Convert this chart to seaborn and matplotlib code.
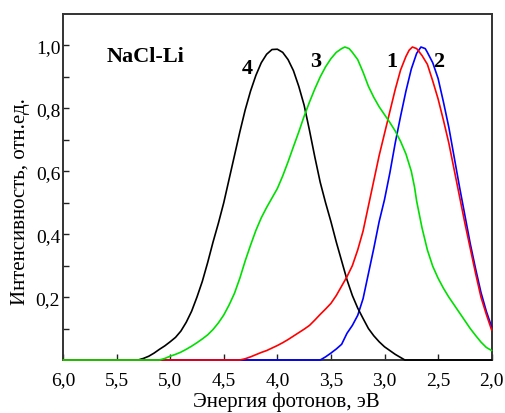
import matplotlib
matplotlib.use("Agg")
import matplotlib.pyplot as plt
import seaborn as sns
import pandas as pd
from matplotlib.ticker import FixedLocator, FuncFormatter

# Spectra of NaCl-Li: photon energy (eV) and normalized intensity
e1 = [6.0, 4.35, 4.3, 4.25, 4.2, 4.15, 4.1, 4.05, 4.0, 3.95, 3.9, 3.85, 3.8,
      3.75, 3.7, 3.65, 3.6, 3.55, 3.5, 3.45, 3.4, 3.35, 3.3, 3.25, 3.2, 3.15,
      3.1, 3.05, 3.0, 2.95, 2.9, 2.85, 2.8, 2.77, 2.74, 2.7, 2.65, 2.6, 2.55,
      2.5, 2.45, 2.4, 2.35, 2.3, 2.25, 2.2, 2.15, 2.1, 2.05, 2.0]
i1 = [0.0, 0.0, 0.004, 0.01, 0.017, 0.024, 0.03, 0.038, 0.046, 0.055, 0.065,
      0.076, 0.087, 0.098, 0.11, 0.127, 0.145, 0.162, 0.18, 0.205, 0.235,
      0.265, 0.30, 0.35, 0.41, 0.49, 0.57, 0.65, 0.72, 0.79, 0.86, 0.922,
      0.965, 0.985, 0.995, 0.99, 0.968, 0.94, 0.887, 0.83, 0.762, 0.69, 0.605,
      0.52, 0.435, 0.355, 0.275, 0.20, 0.145, 0.095]

e2 = [6.0, 3.6, 3.55, 3.5, 3.45, 3.4, 3.35, 3.3, 3.25, 3.2, 3.15, 3.1, 3.05,
      3.0, 2.95, 2.9, 2.85, 2.8, 2.75, 2.7, 2.66, 2.62, 2.6, 2.55, 2.5, 2.45,
      2.4, 2.35, 2.3, 2.25, 2.2, 2.15, 2.1, 2.05, 2.0]
i2 = [0.0, 0.0, 0.01, 0.022, 0.035, 0.05, 0.085, 0.11, 0.142, 0.195, 0.275,
      0.355, 0.44, 0.51, 0.595, 0.69, 0.775, 0.855, 0.925, 0.975, 0.995, 0.99,
      0.978, 0.945, 0.895, 0.82, 0.74, 0.645, 0.55, 0.46, 0.37, 0.29, 0.215,
      0.155, 0.105]

e3 = [6.0, 5.1, 5.05, 5.0, 4.95, 4.9, 4.85, 4.8, 4.75, 4.7, 4.65, 4.6, 4.55,
      4.5, 4.45, 4.4, 4.35, 4.3, 4.25, 4.2, 4.15, 4.1, 4.05, 4.0, 3.95, 3.9,
      3.85, 3.8, 3.75, 3.7, 3.65, 3.6, 3.55, 3.5, 3.45, 3.4, 3.37, 3.33, 3.3,
      3.25, 3.2, 3.15, 3.1, 3.05, 3.0, 2.95, 2.9, 2.85, 2.8, 2.75, 2.72, 2.7,
      2.65, 2.6, 2.55, 2.5, 2.45, 2.4, 2.35, 2.3, 2.25, 2.2, 2.15, 2.1, 2.05,
      2.0]
i3 = [0.0, 0.0, 0.005, 0.012, 0.018, 0.025, 0.034, 0.044, 0.055, 0.067, 0.08,
      0.097, 0.118, 0.143, 0.175, 0.212, 0.26, 0.315, 0.365, 0.412, 0.452,
      0.485, 0.515, 0.545, 0.585, 0.63, 0.678, 0.725, 0.775, 0.82, 0.862, 0.90,
      0.932, 0.958, 0.978, 0.99, 0.995, 0.99, 0.978, 0.955, 0.915, 0.87, 0.835,
      0.805, 0.78, 0.755, 0.728, 0.695, 0.655, 0.60, 0.55, 0.505, 0.42, 0.35,
      0.298, 0.26, 0.228, 0.20, 0.175, 0.15, 0.125, 0.10, 0.078, 0.057, 0.04,
      0.03]

e4 = [6.0, 5.3, 5.25, 5.2, 5.15, 5.1, 5.05, 5.0, 4.95, 4.9, 4.85, 4.8, 4.75,
      4.7, 4.65, 4.6, 4.55, 4.5, 4.45, 4.4, 4.35, 4.3, 4.25, 4.2, 4.15, 4.1,
      4.05, 4.0, 3.95, 3.9, 3.85, 3.8, 3.75, 3.7, 3.65, 3.6, 3.55, 3.5, 3.45,
      3.4, 3.35, 3.3, 3.25, 3.2, 3.15, 3.1, 3.05, 3.0, 2.95, 2.9, 2.85, 2.81,
      2.0]
i4 = [0.0, 0.0, 0.005, 0.012, 0.022, 0.034, 0.045, 0.058, 0.072, 0.092, 0.12,
      0.155, 0.20, 0.25, 0.31, 0.375, 0.435, 0.50, 0.575, 0.65, 0.725, 0.795,
      0.855, 0.905, 0.945, 0.972, 0.987, 0.988, 0.978, 0.955, 0.92, 0.87, 0.81,
      0.73, 0.645, 0.565, 0.50, 0.44, 0.375, 0.315, 0.255, 0.205, 0.165, 0.132,
      0.10, 0.077, 0.058, 0.042, 0.03, 0.018, 0.008, 0.0, 0.0]

# drawing order: first is lowest
curves = [
    ("2", e2, i2, "#0000ff"),
    ("4", e4, i4, "#000000"),
    ("1", e1, i1, "#ff0000"),
    ("3", e3, i3, "#00e000"),
]

# curve number labels: (text, energy, intensity)
curve_labels = [("4", 4.285, 0.927), ("3", 3.645, 0.949),
                ("1", 2.928, 0.952), ("2", 2.493, 0.952)]

x_ticks = [6.0, 5.5, 5.0, 4.5, 4.0, 3.5, 3.0, 2.5, 2.0]
y_ticks = [0.2, 0.4, 0.6, 0.8, 1.0]
y_minor = [0.1, 0.3, 0.5, 0.7, 0.9]

sns.set_theme(style="ticks")
plt.rcParams["font.family"] = ["Liberation Serif", "DejaVu Serif"]

fig = plt.figure(figsize=(5.06, 4.14), dpi=100)
ax = fig.add_axes([0.1245, 0.128, 0.8472, 0.8358])

for name, e, inten, col in curves:
    df = pd.DataFrame({"E": e, "I": inten})
    sns.lineplot(data=df, x="E", y="I", color=col, linewidth=1.2, sort=False,
                 estimator=None, ax=ax, zorder=3, clip_on=False)

for txt, ex, iy in curve_labels:
    ax.text(ex, iy, txt, ha="center", va="center", fontsize=16,
            fontweight="bold", color="black")
ax.text(5.234, 0.967, "NaCl-Li", ha="center", va="center", fontsize=16,
        fontweight="bold", color="black")

ax.set_xlim(6.0, 2.0)
ax.set_ylim(0.0, 1.1)
ax.xaxis.set_major_locator(FixedLocator(x_ticks))
ax.yaxis.set_major_locator(FixedLocator(y_ticks))
ax.yaxis.set_minor_locator(FixedLocator(y_minor))
comma = FuncFormatter(lambda v, p: f"{v:.1f}".replace(".", ","))
ax.xaxis.set_major_formatter(comma)
ax.yaxis.set_major_formatter(comma)

ax.tick_params(axis="both", which="both", direction="in", length=4,
               width=1.0, color="#222222", labelsize=14, labelcolor="black")
ax.tick_params(axis="x", pad=8)
ax.tick_params(axis="y", pad=2)
ax.tick_params(top=False, right=False)

for s in ax.spines.values():
    s.set_linewidth(1.4)
    s.set_color("#333333")

ax.set_xlabel("Энергия фотонов, эВ", fontsize=15, color="black")
ax.set_ylabel("Интенсивность, отн.ед.", fontsize=15, color="black")
ax.xaxis.set_label_coords(0.522, -0.09)
ax.yaxis.set_label_coords(-0.078, 0.461)

fig.savefig("out.png", dpi=100)
